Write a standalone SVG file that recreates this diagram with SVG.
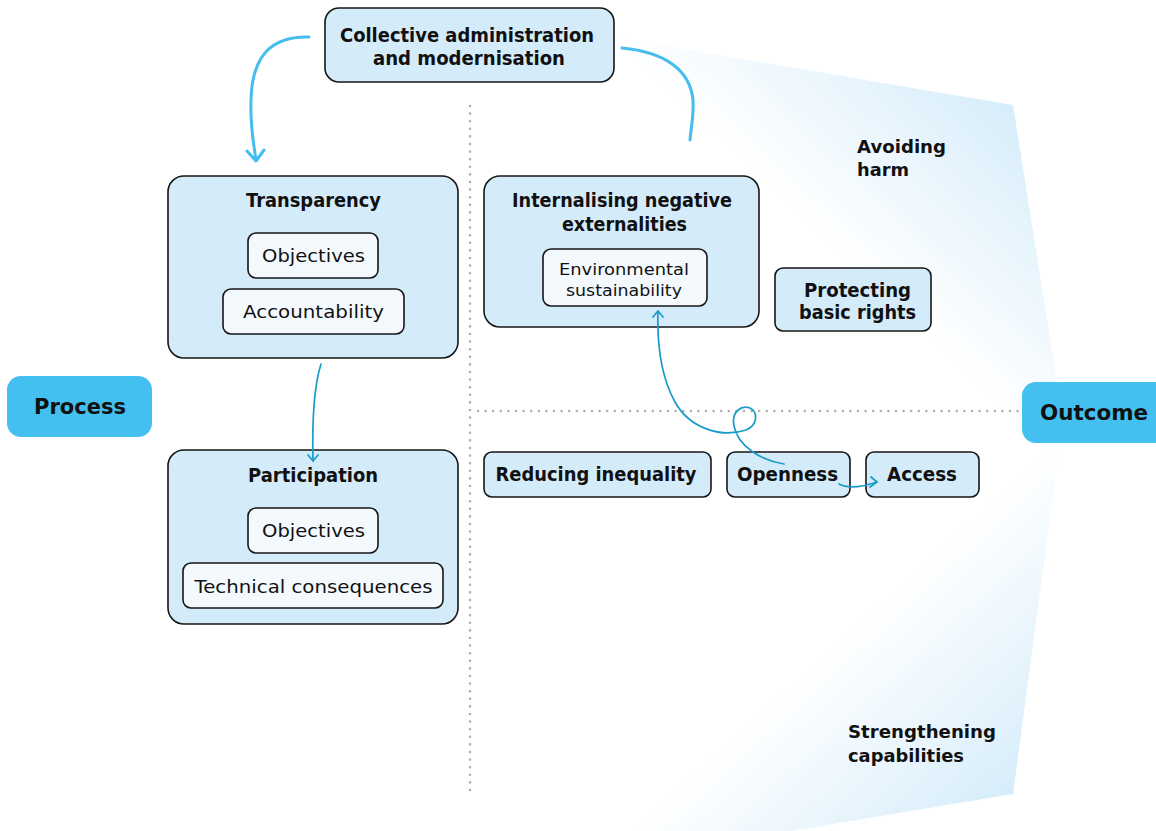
<svg xmlns="http://www.w3.org/2000/svg" width="1156" height="831" viewBox="0 0 1156 831">
<defs>
<linearGradient id="gTop" gradientUnits="userSpaceOnUse" x1="1013" y1="105" x2="790" y2="340">
<stop offset="0" stop-color="#d6edfa"/>
<stop offset="0.35" stop-color="#ebf6fd"/>
<stop offset="0.7" stop-color="#ffffff"/>
</linearGradient>
<linearGradient id="gBot" gradientUnits="userSpaceOnUse" x1="1013" y1="794" x2="790" y2="550">
<stop offset="0" stop-color="#d6edfa"/>
<stop offset="0.35" stop-color="#ebf6fd"/>
<stop offset="0.7" stop-color="#ffffff"/>
</linearGradient>
<style>
.box{fill:#d4ebfa;stroke:#161616;stroke-width:1.6}
.inner{fill:#f4f9fe;stroke:#161616;stroke-width:1.6}
.side{fill:#43c0ef}
.b{font-family:"DejaVu Sans","Liberation Sans",sans-serif;font-weight:bold;fill:#111;text-anchor:middle}
.r{font-family:"DejaVu Sans","Liberation Sans",sans-serif;fill:#111;text-anchor:middle}
.l{text-anchor:start}
.dot{fill:none;stroke:#b0b0b0;stroke-width:2.6;stroke-linecap:round;stroke-dasharray:0 7.6}
.c1{fill:none;stroke:#45bdee;stroke-width:3;stroke-linecap:round;stroke-linejoin:round}
.c2{fill:none;stroke:#1b9bca;stroke-width:1.7;stroke-linecap:round;stroke-linejoin:round}
</style>
</defs>
<rect width="1156" height="831" fill="#ffffff"/>
<g id="backdrop">
<polygon points="300,-16 1013,105 1063,420.5 300,420.5" fill="url(#gTop)"/>
<polygon points="300,420 1063,420 1013,794 300,913" fill="url(#gBot)"/>
</g>
<g id="dividers">
<line class="dot" x1="470" y1="106" x2="470" y2="795"/>
<line class="dot" x1="478" y1="411" x2="1018" y2="411"/>
</g>
<g id="labels">
<text class="b l" x="857" y="153" font-size="18" textLength="89" lengthAdjust="spacingAndGlyphs">Avoiding</text>
<text class="b l" x="857" y="176" font-size="18" textLength="52" lengthAdjust="spacingAndGlyphs">harm</text>
<text class="b l" x="848" y="738" font-size="18" textLength="148" lengthAdjust="spacingAndGlyphs">Strengthening</text>
<text class="b l" x="848" y="762" font-size="18" textLength="116" lengthAdjust="spacingAndGlyphs">capabilities</text>
</g>
<g id="process">
<rect class="side" x="7" y="376" width="145" height="61" rx="14"/>
<text class="b" x="80" y="414" font-size="22" textLength="92" lengthAdjust="spacingAndGlyphs">Process</text>
</g>
<g id="outcome">
<rect class="side" x="1022" y="382" width="150" height="61" rx="14"/>
<text class="b" x="1094" y="420" font-size="22" textLength="108" lengthAdjust="spacingAndGlyphs">Outcome</text>
</g>
<g id="collective">
<rect class="box" x="325" y="8" width="289" height="74" rx="14"/>
<text class="b" x="467" y="42" font-size="19" textLength="254" lengthAdjust="spacingAndGlyphs">Collective administration</text>
<text class="b" x="469" y="65" font-size="19" textLength="192" lengthAdjust="spacingAndGlyphs">and modernisation</text>
</g>
<g id="transparency">
<rect class="box" x="168" y="176" width="290" height="182" rx="16"/>
<text class="b" x="313.5" y="207" font-size="19" textLength="135" lengthAdjust="spacingAndGlyphs">Transparency</text>
<rect class="inner" x="248" y="233" width="130" height="45" rx="8"/>
<text class="r" x="313.5" y="262" font-size="18" textLength="103" lengthAdjust="spacingAndGlyphs">Objectives</text>
<rect class="inner" x="223" y="289" width="181" height="45" rx="8"/>
<text class="r" x="313.5" y="318" font-size="18" textLength="141" lengthAdjust="spacingAndGlyphs">Accountability</text>
</g>
<g id="participation">
<rect class="box" x="168" y="450" width="290" height="174" rx="16"/>
<text class="b" x="313" y="482" font-size="19" textLength="130" lengthAdjust="spacingAndGlyphs">Participation</text>
<rect class="inner" x="248" y="508" width="130" height="45" rx="8"/>
<text class="r" x="313.5" y="537" font-size="18" textLength="103" lengthAdjust="spacingAndGlyphs">Objectives</text>
<rect class="inner" x="183" y="563" width="260" height="45" rx="8"/>
<text class="r" x="313.5" y="593" font-size="18" textLength="238" lengthAdjust="spacingAndGlyphs">Technical consequences</text>
</g>
<g id="internalising">
<rect class="box" x="484" y="176" width="275" height="151" rx="16"/>
<text class="b" x="622" y="207" font-size="19" textLength="220" lengthAdjust="spacingAndGlyphs">Internalising negative</text>
<text class="b" x="624.5" y="231" font-size="19" textLength="125" lengthAdjust="spacingAndGlyphs">externalities</text>
<rect class="inner" x="543" y="249" width="164" height="57" rx="8"/>
<text class="r" x="624" y="275" font-size="16" textLength="130" lengthAdjust="spacingAndGlyphs">Environmental</text>
<text class="r" x="624" y="296" font-size="16" textLength="116" lengthAdjust="spacingAndGlyphs">sustainability</text>
</g>
<g id="protecting">
<rect class="box" x="775" y="268" width="156" height="63" rx="8"/>
<text class="b" x="857.5" y="297" font-size="19" textLength="107" lengthAdjust="spacingAndGlyphs">Protecting</text>
<text class="b" x="857.5" y="319" font-size="19" textLength="117" lengthAdjust="spacingAndGlyphs">basic rights</text>
</g>
<g id="reducing">
<rect class="box" x="484" y="452" width="227" height="45" rx="8"/>
<text class="b" x="596" y="481" font-size="19" textLength="201" lengthAdjust="spacingAndGlyphs">Reducing inequality</text>
</g>
<g id="openness">
<rect class="box" x="727" y="452" width="123" height="45" rx="8"/>
<text class="b" x="787.5" y="481" font-size="19" textLength="101" lengthAdjust="spacingAndGlyphs">Openness</text>
</g>
<g id="access">
<rect class="box" x="866" y="452" width="113" height="45" rx="8"/>
<text class="b" x="922" y="481" font-size="19" textLength="70" lengthAdjust="spacingAndGlyphs">Access</text>
</g>
<g id="connectors">
<path class="c1" d="M309,37 C272,36 252,55 251,100 C250,128 254,145 256,160"/>
<path class="c1" d="M247,151 L256,161 L264,150"/>
<path class="c1" d="M622,48 C665,52 690,70 693,100 C694,115 691,128 690,140"/>
<path class="c2" d="M321,364 C314,386 312,420 313,461"/>
<path class="c2" d="M308,455 L313,461 L318,455"/>
<path class="c2" d="M784,464 C760,460 738,446 734,426 C731,411 742,405 750,408 C758,412 758,425 746,430 C722,438 690,429 675,402 C661,377 657,343 658,311"/>
<path class="c2" d="M653,317 L658,311 L663,317"/>
<path class="c2" d="M839,484 C848,489 862,487 877,482"/>
<path class="c2" d="M871,477 L877,482 L870,487"/>
</g>
</svg>
